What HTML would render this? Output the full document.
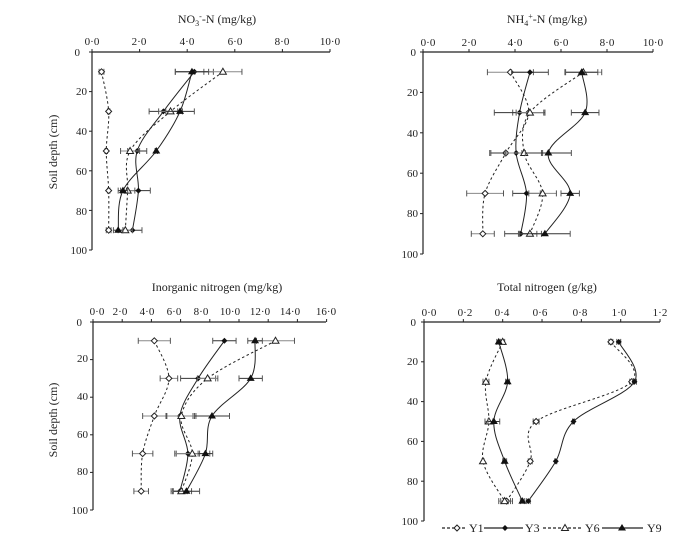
<!DOCTYPE html>
<html><head><meta charset="utf-8"><style>
html,body{margin:0;padding:0;background:#fff;}
svg{display:block;font-family:"Liberation Serif",serif;}
</style></head><body>
<svg id="s" width="693" height="545" viewBox="0 0 693 545" xmlns="http://www.w3.org/2000/svg">
<g font-size="12" fill="#222" text-anchor="middle">
<text x="217" y="23">NO<tspan font-size="8" dy="3">3</tspan><tspan font-size="8" dy="-7">-</tspan><tspan dy="4">-N (mg/kg)</tspan></text>
<text x="547" y="23">NH<tspan font-size="8" dy="3">4</tspan><tspan font-size="8" dy="-7">+</tspan><tspan dy="4">-N (mg/kg)</tspan></text>
<text x="217" y="291">Inorganic nitrogen (mg/kg)</text>
<text x="547" y="291">Total nitrogen (g/kg)</text>
<text transform="translate(57,152) rotate(-90)">Soil depth (cm)</text>
<text transform="translate(57,420) rotate(-90)">Soil depth (cm)</text>
</g>
<g font-size="11" fill="#222" text-anchor="middle">
<text x="92" y="45">0·0</text><text x="139" y="45">2·0</text><text x="187" y="45">4·0</text><text x="235" y="45">6·0</text><text x="282" y="45">8·0</text><text x="330" y="45">10·0</text>
<text x="428" y="46">0·0</text><text x="469" y="46">2·0</text><text x="515" y="46">4·0</text><text x="561" y="46">6·0</text><text x="607" y="46">8·0</text><text x="653" y="46">10·0</text>
<text x="97" y="315">0·0</text><text x="120" y="315">2·0</text><text x="147" y="315">4·0</text><text x="174" y="315">6·0</text><text x="201" y="315">8·0</text><text x="230" y="315">10·0</text><text x="260" y="315">12·0</text><text x="290" y="315">14·0</text><text x="326" y="315">16·0</text>
<text x="429" y="316">0·0</text><text x="465" y="316">0·2</text><text x="502" y="316">0·4</text><text x="540" y="316">0·6</text><text x="580" y="316">0·8</text><text x="619" y="316">1·0</text><text x="660" y="316">1·2</text>
</g>
<g font-size="11" fill="#222" text-anchor="end">
<text x="80" y="56">0</text><text x="87" y="95">20</text><text x="87" y="135">40</text><text x="87" y="175">60</text><text x="87" y="215">80</text><text x="87" y="254">100</text>
<text x="416" y="56">0</text><text x="418" y="96">20</text><text x="418" y="137">40</text><text x="418" y="177">60</text><text x="418" y="217">80</text><text x="418" y="258">100</text>
<text x="82" y="326">0</text><text x="88" y="362">20</text><text x="88" y="400">40</text><text x="88" y="438">60</text><text x="88" y="475">80</text><text x="88" y="514">100</text>
<text x="416" y="326">0</text><text x="418" y="365">20</text><text x="418" y="405">40</text><text x="418" y="445">60</text><text x="418" y="485">80</text><text x="418" y="525">100</text>
</g>
<g font-size="12" fill="#222">
<text x="469" y="532">Y1</text><text x="525" y="532">Y3</text><text x="585" y="532">Y6</text><text x="647" y="532">Y9</text>
</g>
<g id="d"></g>
</svg>
<script>
var NS="http://www.w3.org/2000/svg",G=document.getElementById('d');
function el(t,a){var e=document.createElementNS(NS,t);for(var k in a)e.setAttribute(k,a[k]);G.appendChild(e);return e;}
function marker(k,x,y){
 if(k==0)el('path',{d:'M'+x+' '+(y-3)+'L'+(x+3)+' '+y+'L'+x+' '+(y+3)+'L'+(x-3)+' '+y+'Z',fill:'#fff',stroke:'#222','stroke-width':1});
 if(k==1)el('path',{d:'M'+x+' '+(y-3)+'L'+(x+3)+' '+y+'L'+x+' '+(y+3)+'L'+(x-3)+' '+y+'Z',fill:'#111'});
 if(k==2)el('path',{d:'M'+x+' '+(y-3.5)+'L'+(x+3.5)+' '+(y+2.5)+'L'+(x-3.5)+' '+(y+2.5)+'Z',fill:'#fff',stroke:'#222','stroke-width':1});
 if(k==3)el('path',{d:'M'+x+' '+(y-4)+'L'+(x+4)+' '+(y+2.5)+'L'+(x-4)+' '+(y+2.5)+'Z',fill:'#111'});
}
function cr(p){var d='M'+p[0][0]+' '+p[0][1];for(var i=0;i<p.length-1;i++){var p0=p[i-1]||p[i],p1=p[i],p2=p[i+1],p3=p[i+2]||p2;
 d+='C'+(p1[0]+(p2[0]-p0[0])/6)+' '+(p1[1]+(p2[1]-p0[1])/6)+' '+(p2[0]-(p3[0]-p1[0])/6)+' '+(p2[1]-(p3[1]-p1[1])/6)+' '+p2[0]+' '+p2[1];}return d;}
function panel(P){
 var X=function(v){return P.x0+v*P.sx},Y=function(d){return P.y0+d*(P.y1-P.y0)/100};
 el('line',{x1:P.x0,y1:P.y0,x2:P.xe,y2:P.y0,stroke:'#222','stroke-width':1.2});
 el('line',{x1:P.x0,y1:P.y0,x2:P.x0,y2:P.y1,stroke:'#222','stroke-width':1.2});
 P.tx.forEach(function(v){el('line',{x1:X(v),y1:P.y0,x2:X(v),y2:P.y0-3,stroke:'#222'});});
 for(var d=0;d<=100;d+=20)el('line',{x1:P.x0,y1:Y(d),x2:P.x0-3,y2:Y(d),stroke:'#222'});
 var dep=[10,30,50,70,90];
 P.s.forEach(function(s,k){
  var pts=s.map(function(v,i){return [X(v),Y(dep[i])]});
  el('path',{d:cr(pts),fill:'none',stroke:'#222','stroke-width':1,'stroke-dasharray':(k%2==0)?'2.5,2.5':'none'});
  s.forEach(function(v,i){var e=P.e[k][i]*P.sx,y=Y(dep[i]);
   el('line',{x1:X(v)-e,y1:y,x2:X(v)+e,y2:y,stroke:k%2?'#333':'#888','stroke-width':1});
   el('line',{x1:X(v)-e,y1:y-3,x2:X(v)-e,y2:y+3,stroke:'#555'});
   el('line',{x1:X(v)+e,y1:y-3,x2:X(v)+e,y2:y+3,stroke:'#555'});});
  pts.forEach(function(p){marker(k,p[0],p[1]);});
 });
}
panel({x0:92,xe:330,sx:23.8,y0:52,y1:250,tx:[0,2,4,6,8,10],
 s:[[0.4,0.7,0.6,0.7,0.7],[4.3,3.0,1.9,1.95,1.7],[5.5,3.3,1.6,1.5,1.4],[4.2,3.7,2.7,1.3,1.1]],
 e:[[0.1,0.05,0.05,0.05,0.1],[0.8,0.6,0.4,0.5,0.4],[0.8,0.5,0.4,0.3,0.3],[0.7,0.6,0.05,0.2,0.2]]});
panel({x0:423,xe:653,sx:23,y0:52,y1:254,tx:[0,2,4,6,8,10],
 s:[[3.8,4.6,3.6,2.7,2.6],[4.65,4.2,4.05,4.5,4.25],[6.97,4.65,4.4,5.2,4.65],[6.9,7.05,5.45,6.4,5.3]],
 e:[[1,0.7,0.7,0.8,0.5],[0.8,1.1,1.1,0.6,0.7],[0.8,0.6,0.8,0.6,0.5],[0.7,0.6,1.0,0.4,1.1]]});
panel({x0:93,xe:326,sx:14.6,y0:322,y1:510,tx:[0,2,4,6,8,10,12,14,16],
 s:[[4.2,5.2,4.2,3.4,3.3],[9.0,7.2,5.95,6.5,5.95],[12.5,7.85,6.05,6.8,6.05],[11.1,10.8,8.15,7.7,6.4]],
 e:[[1.1,0.6,0.8,0.7,0.5],[0.8,1.2,0.9,0.8,0.5],[1.3,0.7,1.0,1.2,0.7],[0.5,0.8,1.2,0.5,0.9]]});
panel({x0:424,xe:660,sx:196.7,y0:322,y1:521,tx:[0,0.2,0.4,0.6,0.8,1.0,1.2],
 s:[[0.95,1.056,0.57,0.54,0.42],[0.99,1.07,0.76,0.67,0.53],[0.40,0.315,0.33,0.30,0.41],[0.38,0.425,0.355,0.41,0.50]],
 e:[[0.01,0.01,0.015,0.01,0.03],[0.01,0.01,0.005,0.005,0.01],[0.01,0.015,0.02,0.005,0.03],[0.01,0.01,0.03,0.01,0.01]]});
[[442,467,457,0],[484,523,505,1],[543,583,565,2],[602,643,622,3]].forEach(function(l){
 el('line',{x1:l[0],y1:528,x2:l[1],y2:528,stroke:'#222','stroke-width':1.2,'stroke-dasharray':l[3]%2==0?'3,2':'none'});
 marker(l[3],l[2],528);});
</script>
</body></html>
